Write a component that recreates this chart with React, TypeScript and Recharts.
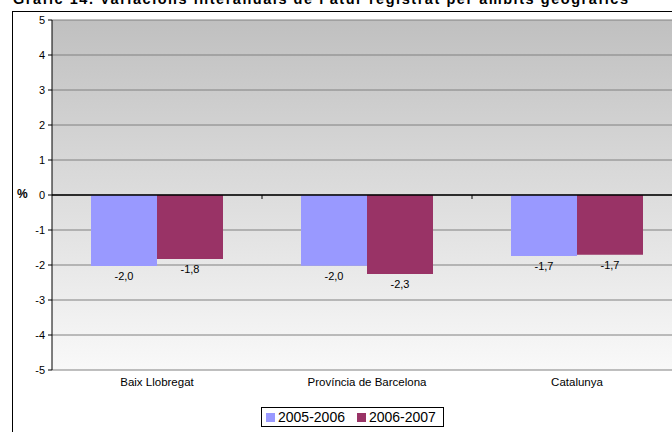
import { BarChart, Bar, XAxis, YAxis, CartesianGrid, ReferenceLine, LabelList } from 'recharts';

const categories = ['Baix Llobregat', 'Província de Barcelona', 'Catalunya'];
const values0506 = [-2.03, -2.02, -1.74];
const values0607 = [-1.83, -2.26, -1.71];
const yTicks = [-5, -4, -3, -2, -1, 0, 1, 2, 3, 4, 5];
const seriesNames = ['2005-2006', '2006-2007'];
const seriesColors = ['#9999FF', '#993366'];

const data = categories.map((name, i) => ({ name, a: values0506[i], b: values0607[i] }));

const font = 'Arial, "Liberation Sans", sans-serif';

const fmt = (v: number) => v.toFixed(1).replace('.', ',');

function BarLabel(props: any) {
    const { x, y, width, height, value } = props;
    const bottom = Math.max(y, y + height);
    return (
        <text x={x + width / 2} y={bottom + 10} dy="0.35em" textAnchor="middle"
            fontSize={11} fontFamily={font} fill="#000">
            {fmt(value)}
        </text>
    );
}

function ZeroLine(props: any) {
    const { x1, y1, x2 } = props;
    const step = (x2 - x1) / categories.length;
    return (
        <g>
            <line x1={x1} y1={y1} x2={x2} y2={y1} stroke="#000" strokeWidth={1.5} />
            {categories.slice(1).map((_, i) => (
                <line key={i} x1={x1 + step * (i + 1)} x2={x1 + step * (i + 1)} y1={y1} y2={y1 + 4} stroke="#000" />
            ))}
        </g>
    );
}

export default function App() {
    return (
        <div style={{ position: 'fixed', left: 0, top: 0, width: 672, height: 432, overflow: 'hidden', background: '#fff', fontFamily: font }}>
            <svg width={672} height={12} style={{ position: 'absolute', left: 0, top: 0 }}>
                <text x={13} y={4} fontSize={14.5} fontWeight="bold" fontFamily={font} textLength={615} fill="#000">
                    Gràfic 14. Variacions interanuals de l'atur registrat per àmbits geogràfics
                </text>
            </svg>
            <div style={{ position: 'absolute', left: 12, top: 11, width: 700, height: 500, border: '1px solid #000' }} />
            <div style={{ position: 'absolute', left: 0, top: 0 }}>
                <BarChart width={700} height={432} data={data} barCategoryGap={39} barGap={0}
                    margin={{ top: 20, right: 18, bottom: 42, left: 12 }}>
                    <defs>
                        <linearGradient id="plotBg" x1="0" y1="0" x2="0" y2="1">
                            <stop offset="0%" stopColor="#c0c0c0" />
                            <stop offset="100%" stopColor="#f9f9f9" />
                        </linearGradient>
                    </defs>
                    <CartesianGrid vertical={false} stroke="#808080" fill="url(#plotBg)" fillOpacity={1} />
                    <XAxis dataKey="name" axisLine={false} tickLine={false} height={20}
                        tick={{ fontSize: 11.5, fontFamily: font, fill: '#000' }} interval={0} />
                    <YAxis width={40} domain={[-5, 5]} ticks={yTicks} interval={0} allowDataOverflow
                        axisLine={{ stroke: '#000' }} tickLine={{ stroke: '#000' }} tickSize={4} tickMargin={3}
                        tick={{ fontSize: 11, fontFamily: font, fill: '#000' }} />
                    <Bar dataKey="a" name={seriesNames[0]} fill={seriesColors[0]} isAnimationActive={false}>
                        <LabelList dataKey="a" content={<BarLabel />} />
                    </Bar>
                    <Bar dataKey="b" name={seriesNames[1]} fill={seriesColors[1]} isAnimationActive={false}>
                        <LabelList dataKey="b" content={<BarLabel />} />
                    </Bar>
                    <ReferenceLine y={0} shape={ZeroLine} />
                </BarChart>
            </div>
            <div style={{ position: 'absolute', left: 17, top: 187, fontSize: 12, fontWeight: 'bold' }}>%</div>
            <div style={{
                position: 'absolute', left: 261, top: 407, width: 181, height: 18, border: '1px solid #000',
                background: '#fff', display: 'flex', alignItems: 'center', fontSize: 14
            }}>
                {seriesNames.map((s, i) => (
                    <div key={s} style={{ display: 'flex', alignItems: 'center', marginLeft: i === 0 ? 4 : 12 }}>
                        <span style={{ width: 9, height: 9, background: seriesColors[i], marginRight: 3 }} />
                        <span>{s}</span>
                    </div>
                ))}
            </div>
        </div>
    );
}
